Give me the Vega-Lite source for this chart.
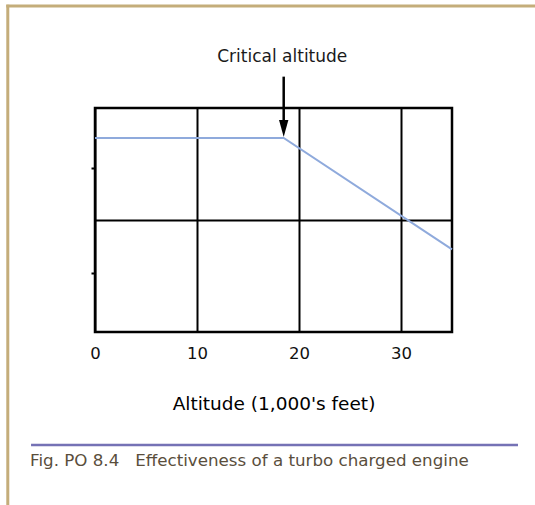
{
  "$schema": "https://vega.github.io/schema/vega-lite/v6.json",
  "width": 357,
  "height": 224,
  "autosize": "none",
  "padding": {"left": 95, "top": 108, "right": 83, "bottom": 173},
  "background": "white",
  "config": {
    "view": {"stroke": "black", "strokeWidth": 2.5},
    "font": "DejaVu Sans"
  },
  "data": {"values": [
    {"altitude": 0, "power": 86.6},
    {"altitude": 18.5, "power": 86.6},
    {"altitude": 35, "power": 36.9}
  ]},
  "layer": [
    {
      "mark": {"type": "line", "color": "#8faadc", "strokeWidth": 2},
      "encoding": {
        "x": {"field": "altitude", "type": "quantitative",
          "scale": {"domain": [0, 35], "nice": false, "zero": false},
          "axis": {"values": [0, 10, 20, 30], "grid": true, "gridColor": "black", "gridWidth": 2, "gridOpacity": 1,
            "ticks": false, "domain": false, "labelFlush": false, "labelPadding": 13, "labelFontSize": 16.5, "labelColor": "#111",
            "labelFont": "DejaVu Sans", "labelFontWeight": "normal", "title": "Altitude (1,000's feet)", "titleFontSize": 18.5, "titleFontWeight": "normal",
            "titleColor": "#000", "titlePadding": 33, "titleFont": "DejaVu Sans"}},
        "y": {"field": "power", "type": "quantitative",
          "scale": {"domain": [0, 100], "nice": false, "zero": false},
          "axis": {"values": [26.3, 50, 73.2], "labels": false, "title": null, "domain": false,
            "ticks": true, "tickSize": 4, "tickWidth": 2,
            "tickColor": {"condition": {"test": "datum.value === 50", "value": "transparent"}, "value": "black"},
            "grid": true, "gridWidth": 2, "gridOpacity": 1,
            "gridColor": {"condition": {"test": "datum.value === 50", "value": "black"}, "value": "transparent"}}}
      }
    },
    {
      "data": {"values": [{}]},
      "mark": {"type": "rule", "color": "black", "strokeWidth": 2.5},
      "encoding": {
        "x": {"datum": 18.5, "type": "quantitative"},
        "y": {"datum": 114.0, "type": "quantitative"},
        "y2": {"datum": 93}
      }
    },
    {
      "data": {"values": [{}]},
      "mark": {"type": "point", "shape": "M-0.55,-1L0.55,-1L0,1Z", "filled": true, "color": "black", "opacity": 1, "size": 289},
      "encoding": {
        "x": {"datum": 18.5, "type": "quantitative"},
        "y": {"datum": 90.8, "type": "quantitative"}
      }
    },
    {
      "data": {"values": [{}]},
      "mark": {"type": "text", "text": "Critical altitude", "align": "center", "baseline": "alphabetic", "fontSize": 17, "color": "#1a1a1a"},
      "encoding": {
        "x": {"datum": 18.36, "type": "quantitative"},
        "y": {"datum": 120.7, "type": "quantitative"}
      }
    },
    {
      "data": {"values": [{}]},
      "mark": {"type": "rule", "color": "#7572b5", "strokeWidth": 2.5},
      "encoding": {
        "x": {"datum": -6.27, "type": "quantitative"},
        "x2": {"datum": 41.47},
        "y": {"datum": -50.4, "type": "quantitative"}
      }
    },
    {
      "data": {"values": [{}]},
      "mark": {"type": "text", "text": "Fig. PO 8.4\u00a0\u00a0\u00a0Effectiveness of a turbo charged engine", "align": "left", "baseline": "alphabetic", "fontSize": 16.7, "color": "#5a4e3c"},
      "encoding": {
        "x": {"datum": -6.37, "type": "quantitative"},
        "y": {"datum": -59.8, "type": "quantitative"}
      }
    },
    {
      "data": {"values": [{}]},
      "mark": {"type": "rule", "color": "#c4ad7a", "strokeWidth": 3},
      "encoding": {
        "x": {"datum": -8.7, "type": "quantitative"},
        "x2": {"datum": 43.2},
        "y": {"datum": 145.5, "type": "quantitative"}
      }
    },
    {
      "data": {"values": [{}]},
      "mark": {"type": "rule", "color": "#c4ad7a", "strokeWidth": 3},
      "encoding": {
        "x": {"datum": -8.55, "type": "quantitative"},
        "y": {"datum": 146.1, "type": "quantitative"},
        "y2": {"datum": -77.5}
      }
    }
  ]
}
